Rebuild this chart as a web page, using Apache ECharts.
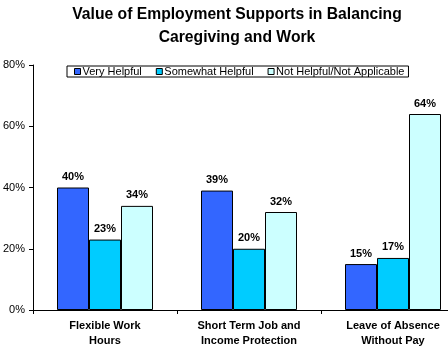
<!DOCTYPE html>
<html><head><meta charset="utf-8">
<script src="https://cdn.jsdelivr.net/npm/echarts@6/dist/echarts.min.js"></script>
<style>html,body{margin:0;padding:0;background:#fff}#c{width:448px;height:348px}</style>
</head><body><div id="c"></div>
<script>
const categories = ['Flexible Work\nHours', 'Short Term Job and\nIncome Protection', 'Leave of Absence\nWithout Pay'];
const seriesNames = ['Very Helpful', 'Somewhat Helpful', 'Not Helpful/Not Applicable'];
const veryHelpful = [40, 39, 15];
const somewhatHelpful = [23, 20, 17];
const notHelpful = [34, 32, 64];
const yTicks = [0, 20, 40, 60, 80];
const colors = ['#3366FF', '#00CCFF', '#CCFFFF'];
const values = [veryHelpful, somewhatHelpful, notHelpful];
const FONT = '"Liberation Sans", Arial, sans-serif';

const chart = echarts.init(document.getElementById('c'), null, {renderer: 'canvas'});
chart.setOption({
  animation: false,
  backgroundColor: '#fff',
  textStyle: {fontFamily: FONT},
  title: {
    text: 'Value of Employment Supports in Balancing\nCaregiving and Work',
    left: 232, textAlign: 'center', top: -2,
    textStyle: {fontFamily: FONT, fontSize: 15.7, fontWeight: 'bold', color: '#000', lineHeight: 23}
  },
  legend: {
    data: seriesNames,
    left: 67, top: 66,
    itemWidth: 6, itemHeight: 6, itemGap: 14,
    padding: [0, 4, 0, 7],
    borderColor: '#000', borderWidth: 1,
    textStyle: {fontFamily: FONT, fontSize: 11, color: '#000', padding: [0,0,0,-3]},
    icon: 'rect',
    itemStyle: {borderColor: '#000', borderWidth: 1}
  },
  grid: {left: 33, top: 65, width: 432, height: 245, containLabel: false, outerBoundsMode: 'none'},
  xAxis: {
    type: 'category', data: categories,
    axisLine: {lineStyle: {color: '#000', width: 1}},
    axisTick: {show: true, length: 4, alignWithLabel: false, lineStyle: {color: '#000'}},
    axisLabel: {fontFamily: FONT, fontSize: 11, fontWeight: 'bold', color: '#000', lineHeight: 15, margin: 8, interval: 0}
  },
  yAxis: {
    type: 'value', min: 0, max: 80, interval: 20,
    axisLine: {show: true, lineStyle: {color: '#000', width: 1}},
    axisTick: {show: true, length: 4, lineStyle: {color: '#000'}},
    splitLine: {show: false},
    axisLabel: {fontFamily: FONT, fontSize: 11, color: '#000', margin: 8, formatter: v => v + '%'}
  },
  series: seriesNames.map((n, i) => ({
    name: n, type: 'bar', data: values[i],
    barWidth: 32, barGap: '0%',
    itemStyle: {color: colors[i], borderColor: '#000', borderWidth: 1},
    label: {show: true, position: 'top', distance: 5, formatter: '{c}%', fontFamily: FONT, fontSize: 11, fontWeight: 'bold', color: '#000'}
  }))
});
</script></body></html>
